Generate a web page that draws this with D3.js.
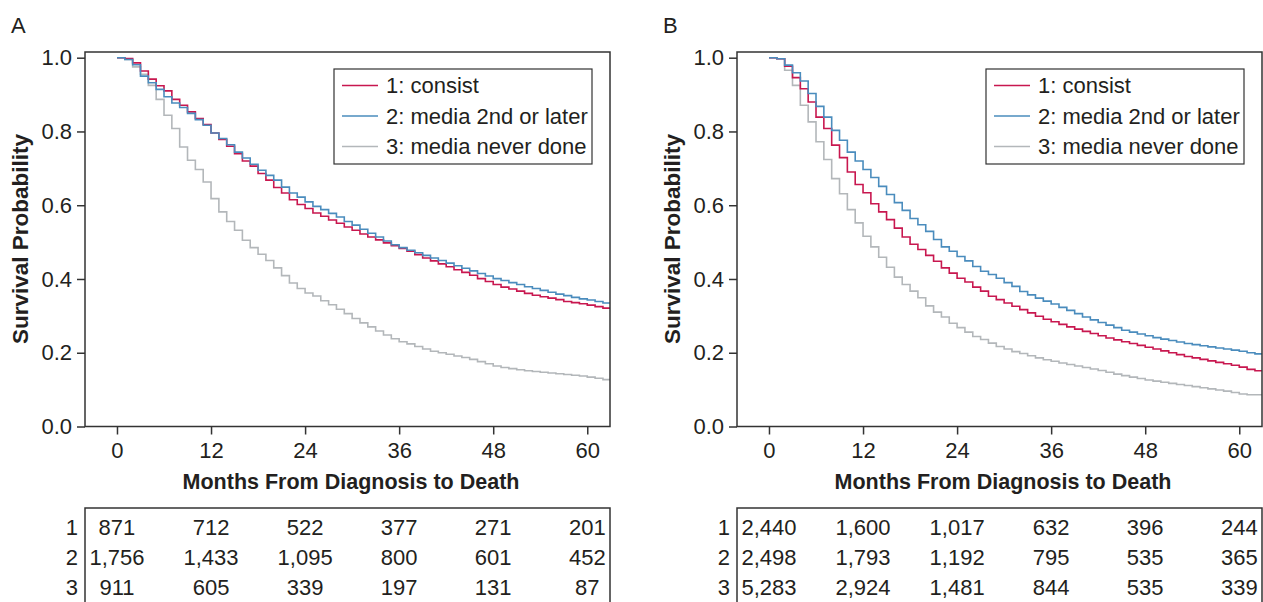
<!DOCTYPE html>
<html>
<head>
<meta charset="utf-8">
<script src="https://cdn.jsdelivr.net/npm/d3@7"></script>
<style>
  body { margin: 0; background: #fff; }
  svg text { font-family: "Liberation Sans", Arial, Helvetica, sans-serif; fill: #231f20; }
</style>
</head>
<body>
<svg id="chart" width="1263" height="602"></svg>
<script>
// month index for each step value (0..62)
const months = d3.range(0, 63);
const xTicks = [0, 12, 24, 36, 48, 60];
const yTicks = [0, 0.2, 0.4, 0.6, 0.8, 1.0];
const groupIds = ["1", "2", "3"];
const groupNames = ["1: consist", "2: media 2nd or later", "3: media never done"];
const colors = ["#c8174f", "#4a8cbd", "#b3b7ba"];

// panel A survival, one value per month
const survA1 = [1.000, 0.998, 0.986, 0.964, 0.942, 0.924, 0.910, 0.887, 0.871, 0.853, 0.835, 0.819, 0.796, 0.778, 0.760, 0.740, 0.720, 0.706, 0.686, 0.668, 0.648, 0.633, 0.615, 0.602, 0.591, 0.579, 0.570, 0.560, 0.551, 0.541, 0.532, 0.522, 0.514, 0.506, 0.498, 0.490, 0.483, 0.475, 0.466, 0.457, 0.449, 0.441, 0.433, 0.425, 0.418, 0.410, 0.401, 0.393, 0.385, 0.378, 0.373, 0.367, 0.361, 0.356, 0.352, 0.348, 0.344, 0.339, 0.336, 0.333, 0.329, 0.325, 0.321];
const survA2 = [1.000, 0.995, 0.981, 0.950, 0.932, 0.914, 0.894, 0.877, 0.865, 0.849, 0.832, 0.817, 0.796, 0.781, 0.764, 0.744, 0.728, 0.711, 0.695, 0.681, 0.668, 0.649, 0.633, 0.622, 0.609, 0.597, 0.588, 0.578, 0.568, 0.556, 0.546, 0.535, 0.524, 0.514, 0.503, 0.493, 0.485, 0.478, 0.471, 0.464, 0.457, 0.450, 0.443, 0.436, 0.429, 0.422, 0.415, 0.408, 0.401, 0.396, 0.390, 0.385, 0.379, 0.374, 0.369, 0.364, 0.359, 0.355, 0.350, 0.346, 0.343, 0.339, 0.335];
const survA3 = [1.000, 0.995, 0.975, 0.955, 0.925, 0.887, 0.844, 0.808, 0.758, 0.722, 0.697, 0.663, 0.618, 0.582, 0.556, 0.532, 0.505, 0.485, 0.467, 0.450, 0.430, 0.409, 0.389, 0.374, 0.362, 0.354, 0.341, 0.330, 0.318, 0.306, 0.293, 0.281, 0.270, 0.259, 0.248, 0.238, 0.230, 0.224, 0.217, 0.210, 0.204, 0.200, 0.196, 0.191, 0.187, 0.182, 0.176, 0.170, 0.164, 0.160, 0.157, 0.154, 0.151, 0.149, 0.147, 0.145, 0.143, 0.141, 0.139, 0.137, 0.134, 0.131, 0.127];

// panel B survival
const survB1 = [1.000, 0.997, 0.977, 0.946, 0.916, 0.880, 0.839, 0.808, 0.763, 0.729, 0.690, 0.656, 0.634, 0.604, 0.582, 0.561, 0.538, 0.514, 0.494, 0.480, 0.464, 0.448, 0.430, 0.416, 0.402, 0.392, 0.378, 0.367, 0.353, 0.344, 0.335, 0.326, 0.317, 0.308, 0.299, 0.291, 0.284, 0.277, 0.270, 0.264, 0.258, 0.252, 0.246, 0.240, 0.235, 0.230, 0.225, 0.220, 0.215, 0.210, 0.205, 0.200, 0.195, 0.190, 0.186, 0.182, 0.178, 0.174, 0.170, 0.166, 0.161, 0.155, 0.151];
const survB2 = [1.000, 0.997, 0.980, 0.959, 0.937, 0.903, 0.868, 0.839, 0.803, 0.776, 0.744, 0.720, 0.697, 0.675, 0.651, 0.629, 0.607, 0.586, 0.564, 0.547, 0.529, 0.507, 0.487, 0.475, 0.461, 0.449, 0.434, 0.421, 0.412, 0.402, 0.390, 0.380, 0.366, 0.357, 0.348, 0.340, 0.332, 0.323, 0.315, 0.306, 0.297, 0.289, 0.282, 0.275, 0.268, 0.261, 0.256, 0.251, 0.246, 0.241, 0.237, 0.233, 0.229, 0.225, 0.222, 0.219, 0.216, 0.213, 0.210, 0.207, 0.204, 0.200, 0.197];
const survB3 = [1.000, 0.997, 0.966, 0.925, 0.871, 0.826, 0.772, 0.724, 0.672, 0.631, 0.588, 0.552, 0.516, 0.487, 0.459, 0.432, 0.405, 0.385, 0.367, 0.349, 0.327, 0.310, 0.297, 0.280, 0.268, 0.256, 0.244, 0.236, 0.226, 0.217, 0.210, 0.203, 0.198, 0.192, 0.186, 0.181, 0.177, 0.172, 0.168, 0.164, 0.160, 0.156, 0.152, 0.147, 0.142, 0.138, 0.134, 0.130, 0.126, 0.123, 0.120, 0.117, 0.114, 0.111, 0.108, 0.105, 0.102, 0.099, 0.096, 0.092, 0.088, 0.086, 0.086];

// number at risk
const riskA1 = ["871", "712", "522", "377", "271", "201"];
const riskA2 = ["1,756", "1,433", "1,095", "800", "601", "452"];
const riskA3 = ["911", "605", "339", "197", "131", "87"];
const riskB1 = ["2,440", "1,600", "1,017", "632", "396", "244"];
const riskB2 = ["2,498", "1,793", "1,192", "795", "535", "365"];
const riskB3 = ["5,283", "2,924", "1,481", "844", "535", "339"];

const panels = [
  { label: "A", dx: 0, series: [survA1, survA2, survA3], risk: [riskA1, riskA2, riskA3] },
  { label: "B", dx: 652, series: [survB1, survB2, survB3], risk: [riskB1, riskB2, riskB3] }
];

const plotL = 85, plotR = 610, plotT = 52, plotB = 426.5;
const fs = 22;
const svg = d3.select("#chart");

panels.forEach((p) => {
  const g = svg.append("g").attr("transform", `translate(${p.dx},0)`);
  const x = d3.scaleLinear().domain([-4.08, 62.9]).range([plotL, plotR]);
  const y = d3.scaleLinear().domain([0, 1]).range([plotB, 57.7]);

  g.append("text").attr("x", 11).attr("y", 33).style("font-size", "22px").text(p.label);

  const clipId = "clip" + p.label;
  g.append("clipPath").attr("id", clipId)
    .append("rect").attr("x", plotL).attr("y", plotT).attr("width", plotR - plotL).attr("height", plotB - plotT);

  const line = d3.line()
    .x((d) => x(d[0]))
    .y((d) => y(d[1]))
    .curve(d3.curveStepAfter);

  // grey first so the coloured ones sit on top
  [2, 0, 1].forEach((i) => {
    const vals = p.series[i];
    const pts = months.map((m) => [m, vals[m]]);
    pts.push([63, vals[vals.length - 1]]);
    g.append("path")
      .datum(pts)
      .attr("clip-path", `url(#${clipId})`)
      .attr("fill", "none")
      .attr("stroke", colors[i])
      .attr("stroke-width", 1.6)
      .attr("d", line);
  });

  // frame
  g.append("rect")
    .attr("x", plotL).attr("y", plotT)
    .attr("width", plotR - plotL).attr("height", plotB - plotT)
    .attr("fill", "none").attr("stroke", "#333").attr("stroke-width", 1.5);

  const yAxis = g.append("g").attr("transform", `translate(${plotL},0)`)
    .call(d3.axisLeft(y).tickValues(yTicks).tickFormat(d3.format(".1f")).tickSize(8).tickPadding(5));
  const xAxis = g.append("g").attr("transform", `translate(0,${plotB})`)
    .call(d3.axisBottom(x).tickValues(xTicks).tickSize(8).tickPadding(8));
  [yAxis, xAxis].forEach((a) => {
    a.select(".domain").remove();
    a.selectAll(".tick line").attr("stroke", "#333").attr("stroke-width", 1.5);
    a.selectAll(".tick text").style("font-size", fs + "px");
  });

  g.append("text")
    .attr("x", 351).attr("y", 489)
    .attr("text-anchor", "middle")
    .style("font-size", "21.5px").style("font-weight", "bold")
    .text("Months From Diagnosis to Death");

  g.append("text")
    .attr("transform", "translate(28,239) rotate(-90)")
    .attr("text-anchor", "middle")
    .style("font-size", "22.5px").style("font-weight", "bold")
    .text("Survival Probability");

  // legend
  const lg = g.append("g");
  lg.append("rect").attr("x", 334).attr("y", 69).attr("width", 258).attr("height", 95)
    .attr("fill", "#fff").attr("stroke", "#333").attr("stroke-width", 1.2);
  groupNames.forEach((name, i) => {
    const ly = 85.5 + i * 30.5;
    lg.append("line").attr("x1", 342).attr("x2", 378).attr("y1", ly).attr("y2", ly)
      .attr("stroke", colors[i]).attr("stroke-width", 1.6);
    lg.append("text").attr("x", 386).attr("y", ly).attr("dy", "0.36em")
      .style("font-size", fs + "px").text(name);
  });

  // risk table
  const tb = g.append("g");
  tb.append("path")
    .attr("d", `M${plotL},602V508H${plotR}V602`)
    .attr("fill", "none").attr("stroke", "#333").attr("stroke-width", 1.5);
  groupIds.forEach((id, i) => {
    const ry = 527 + i * 30;
    tb.append("text").attr("x", 78).attr("y", ry).attr("dy", "0.36em")
      .attr("text-anchor", "end").style("font-size", fs + "px").text(id);
    tb.selectAll(null).data(p.risk[i]).enter().append("text")
      .attr("x", (d, j) => x(xTicks[j]))
      .attr("y", ry).attr("dy", "0.36em")
      .attr("text-anchor", "middle")
      .style("font-size", fs + "px")
      .text((d) => d);
  });
});
</script>
</body>
</html>
